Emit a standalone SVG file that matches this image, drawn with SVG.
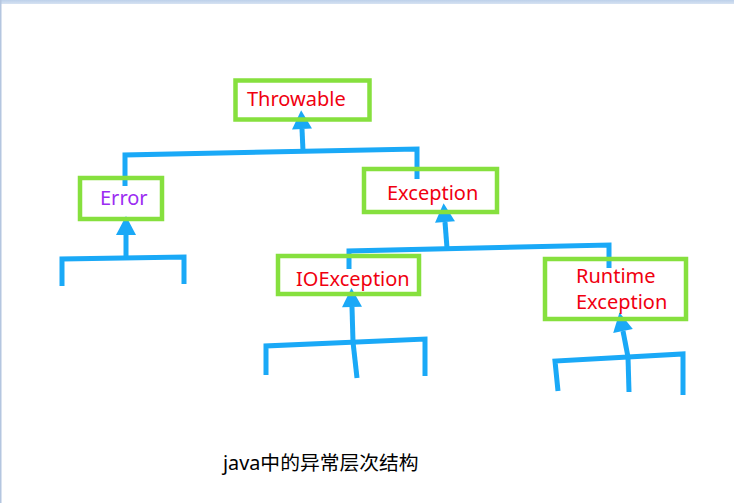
<svg xmlns="http://www.w3.org/2000/svg" width="734" height="503" viewBox="0 0 734 503">
<defs>
<linearGradient id="topbar" x1="0" y1="0" x2="0" y2="1">
<stop offset="0" stop-color="#bcd0ea"/>
<stop offset="1" stop-color="#d6e2f2"/>
</linearGradient>
<marker id="head" markerUnits="userSpaceOnUse" markerWidth="20" markerHeight="20" refX="0" refY="9" orient="auto" viewBox="0 0 18 18" overflow="visible">
<path d="M0,0 L17,9 L0,18 Z" fill="#1aa9f7"/>
</marker>
</defs>
<style>
.box{fill:none;stroke:#86e03e;stroke-width:4.5}
.lbl{font-family:"Noto Sans","Open Sans","Liberation Sans",sans-serif;font-size:20px;fill:#f00010}
.err{fill:#9b2cf2}
.ln{fill:none;stroke:#1aa9f7;stroke-width:5;stroke-linejoin:miter;stroke-linecap:butt}
.arr{fill:none;stroke:#1aa9f7;stroke-width:5;marker-end:url(#head)}
.cap{font-family:"Noto Sans","Noto Sans CJK SC",sans-serif;font-size:19.8px;fill:#000}
</style>
<rect x="0" y="0" width="734" height="503" fill="#ffffff"/>
<rect x="0" y="0" width="734" height="4" fill="url(#topbar)"/>
<rect x="0" y="0" width="1.5" height="503" fill="#b4c6e0"/>

<g id="connectors">
<polyline class="ln" points="125,186 125,155 417,149 417,179"/>
<polyline class="arr" points="303,151 302,129"/>
<polyline class="ln" points="62,286 62,259 184,257 184,284"/>
<polyline class="arr" points="126,257 126,235"/>
<polyline class="ln" points="349,269 349,251 609,245 609,268"/>
<polyline class="arr" points="447,248 445,222"/>
<polyline class="ln" points="266,375 266,346 425,339 425,376"/>
<polyline class="ln" points="353,342 357,378"/>
<polyline class="arr" points="353,342 352,307"/>
<polyline class="ln" points="558,391 555,361 683,354 683,395"/>
<polyline class="ln" points="628,357 629,392"/>
<polyline class="arr" points="628,357 623,331"/>
</g>

<g id="throwable">
<rect class="box" x="235.5" y="80.5" width="134" height="39"/>
<text class="lbl" x="247" y="106">Throwable</text>
</g>
<g id="error">
<rect class="box" x="80" y="178" width="82" height="41"/>
<text class="lbl err" x="100" y="205">Error</text>
</g>
<g id="exception">
<rect class="box" x="364" y="169" width="133" height="43"/>
<text class="lbl" x="387" y="200">Exception</text>
</g>
<g id="ioexception">
<rect class="box" x="278" y="256" width="141" height="38"/>
<text class="lbl" x="296" y="286">IOException</text>
</g>
<g id="runtimeexception">
<rect class="box" x="545" y="259" width="141" height="60"/>
<text class="lbl" x="576" y="283">Runtime</text>
<text class="lbl" x="576" y="309">Exception</text>
</g>
<g id="caption">
<text class="cap" x="223" y="470">java中的异常层次结构</text>
</g>
</svg>
